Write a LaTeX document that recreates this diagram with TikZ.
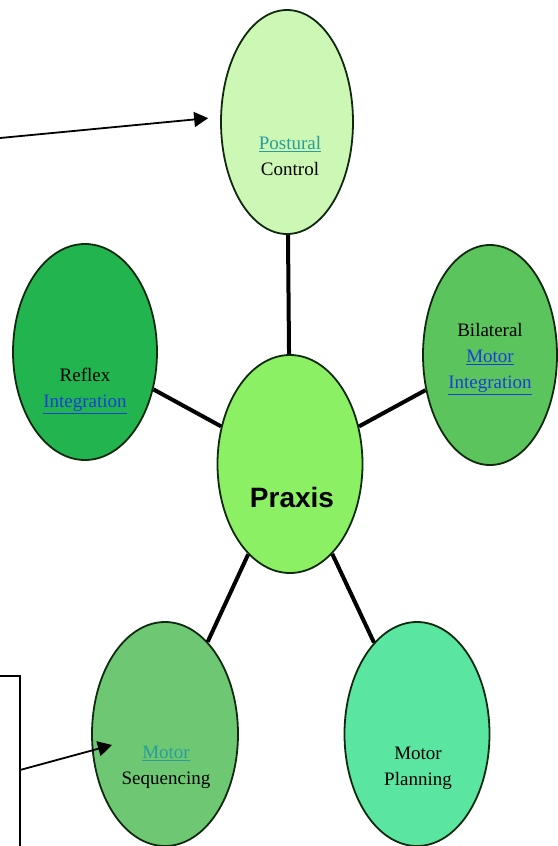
\documentclass[tikz,border=0pt]{standalone}
\usepackage{fontspec}
\setmainfont{Liberation Serif}
\newfontfamily\praxisfont{Liberation Sans}
\usetikzlibrary{arrows.meta,shapes.geometric}

\definecolor{posturalgreen}{HTML}{CCF7B4}
\definecolor{reflexgreen}{HTML}{22B44E}
\definecolor{bilateralgreen}{HTML}{5CC45C}
\definecolor{praxisgreen}{HTML}{8CF064}
\definecolor{sequencinggreen}{HTML}{6EC873}
\definecolor{planninggreen}{HTML}{5AE6A0}
\definecolor{linkblue}{HTML}{1A3FD8}
\definecolor{linkteal}{HTML}{2A9D9A}
\definecolor{rimgreen}{HTML}{102A10}

\newcommand\bluelink[1]{\textcolor{linkblue}{\underline{#1}}}
\newcommand\teallink[1]{\textcolor{linkteal}{\underline{#1}}}

\tikzset{
  area/.style={ellipse, draw=rimgreen, line width=1.8pt, inner sep=0pt},
  areatext/.style={align=center, font=\fontsize{19}{26}\selectfont},
  spoke/.style={line width=4pt, black},
  pointer/.style={line width=1.8pt, -{Triangle[length=14pt,width=15pt]}},
}

\begin{document}
\begin{tikzpicture}[x=1pt,y=-1pt]
  \useasboundingbox (0,0) rectangle (557,846);

  \coordinate (P) at (287,122);
  \coordinate (R) at (85,352);
  \coordinate (B) at (490,355);
  \coordinate (X) at (290,464);
  \coordinate (S) at (165,734);
  \coordinate (M) at (417,734);

  \node [area, fill=posturalgreen, minimum width=132pt, minimum height=224pt] (postural) at (P) {};
  \node [area, fill=reflexgreen, minimum width=144pt, minimum height=216pt] (reflex) at (R) {};
  \node [area, fill=bilateralgreen, minimum width=134pt, minimum height=220pt] (bilateral) at (B) {};
  \node [area, fill=praxisgreen, minimum width=145pt, minimum height=218pt] (praxis) at (X) {};
  \node [area, fill=sequencinggreen, minimum width=146pt, minimum height=224pt] (sequencing) at (S) {};
  \node [area, fill=planninggreen, minimum width=145pt, minimum height=224pt] (planning) at (M) {};

  % Spokes out of the centre.
  \draw [spoke] (postural) -- (praxis);
  \draw [spoke] (reflex) -- (praxis);
  \draw [spoke] (bilateral) -- (praxis);
  \draw [spoke] (sequencing) -- (praxis);
  \draw [spoke] (planning) -- (praxis);

  % Texts.
  \node [areatext] (postural-text) at (290,156) {\teallink{Postural}\\Control};
  \node [areatext] (reflex-text) at (85,391) {Reflex\\\bluelink{Integration}};
  \node [areatext] (bilateral-text) at (490,359) {Bilateral\\\bluelink{Motor}\\\bluelink{Integration}};
  \node [font=\praxisfont\bfseries\fontsize{28}{32}\selectfont] (praxis-text) at (292,497) {Praxis};
  \node [areatext] (sequencing-text) at (166,767) {\teallink{Motor}\\Sequencing};
  \node [areatext] (planning-text) at (418,768) {Motor\\Planning};

  % Side note and pointers.
  \coordinate (noteA) at (0,138);
  \coordinate (boxtop) at (0,676);
  \coordinate (boxcorner) at (20,676);
  \coordinate (boxbottom) at (20,846);
  \coordinate (noteB) at (20,770);
  \coordinate (seqtip) at (112,745);
  \draw [line width=1.2pt] (boxtop) -- (boxcorner) -- (boxbottom);
  \draw [pointer, shorten >=12pt] (noteA) -- ([yshift=5pt]postural.west);
  \draw [pointer] (noteB) -- (seqtip);
\end{tikzpicture}
\end{document}
